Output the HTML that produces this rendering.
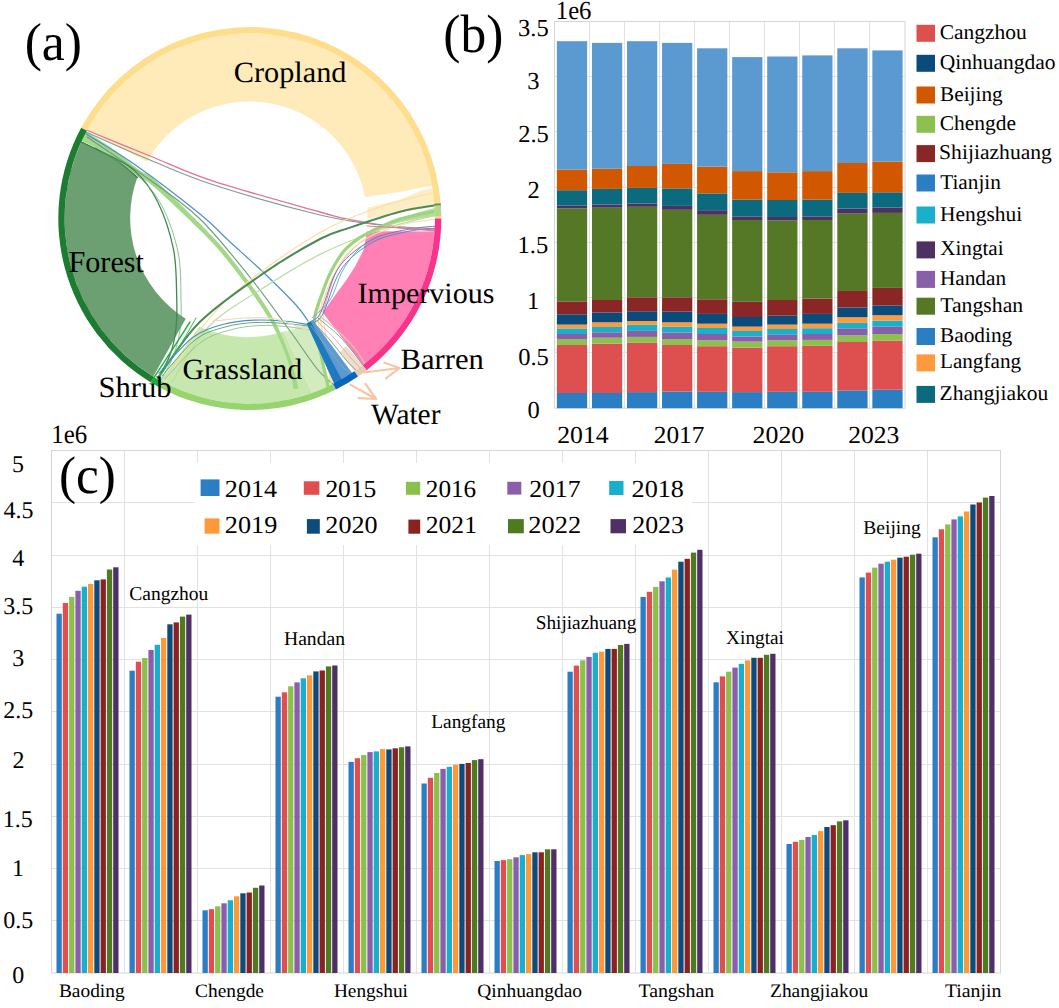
<!DOCTYPE html>
<html><head><meta charset="utf-8"><style>
html,body{margin:0;padding:0;background:#fff;}
body{width:1059px;height:1008px;overflow:hidden;font-family:"Liberation Serif",serif;}
svg text{font-family:"Liberation Serif",serif;fill:#000;text-rendering:geometricPrecision;}
</style></head><body>
<svg width="1059" height="1008" viewBox="0 0 1059 1008" style="display:block">
<rect width="1059" height="1008" fill="#fff"/>
<g id="chord">
<path d="M86.74,130.70 A185.20,185.20 0 0 1 432.19,186.34 L423,187.1 L399.6,191.9 L364.9,196.9 A117.50,117.50 0 0 0 147.03,161.53 Z" fill="#FEEBB9"/>
<path d="M367.4,207.8 L399.6,199.8 L423,190 L432.51,188.25 A185.20,185.20 0 0 1 434.63,206.87 L400,212.5 L367.4,219 Z" fill="#FEEDC2"/>
<path d="M81.41,141.40 L114.7,158.2 L137.5,176.9 A119.00,119.00 0 0 0 185.69,318.75 L153.31,376.58 A185.20,185.20 0 0 1 81.41,141.40 Z" fill="#6CA073"/>
<path d="M81.5,142.0 C87.0,144.8 105.4,153.1 114.7,159.0 C124.0,164.9 133.7,174.4 137.5,177.5" fill="none" stroke="#3F7F4A" stroke-width="1.4" opacity="1" stroke-linecap="round"/>
<path d="M160.58,380.79 L199.4,326.8 A118.00,118.00 0 0 0 283.71,331.52 L311.93,392.97 A185.20,185.20 0 0 1 160.58,380.79 Z" fill="#C6E7AE"/>
<path d="M311.93,392.97 L283.7,331.5 C298,329 306,324 312,320 C318,345 322,370 333.01,383.95 A185.20,185.20 0 0 1 311.93,392.97 Z" fill="#D2ECC0"/>
<path d="M434.55,231.42 A185.20,185.20 0 0 1 362.80,365.23 L322.7,312.6 Q336,294 346.7,279.5 Q357,265 363.6,249.5 L367.2,231.2 Z" fill="#FF80B4"/>
<path d="M323.0,312.0 C325.2,305.3 331.2,282.3 336.0,272.0 C340.8,261.7 346.8,255.7 352.0,250.0 C357.2,244.3 364.5,240.0 367.0,238.0" fill="none" stroke="#F45C9C" stroke-width="1.0" opacity="0.8" stroke-linecap="round"/>
<path d="M340,352 L346,346 L362.80,365.23 A185.20,185.20 0 0 1 354.43,371.31 Z" fill="#EADACB" opacity="0.9"/>
<path d="M318.5,300.0 C319.1,305.0 320.6,320.0 322.0,330.0 C323.4,340.0 325.1,350.3 327.0,360.0 C328.9,369.7 332.3,383.3 333.4,388.0" fill="none" stroke="#F6E3B0" stroke-width="2.0" opacity="0.9" stroke-linecap="round"/>
<path d="M321.0,300.0 C321.7,305.0 323.5,320.0 325.0,330.0 C326.5,340.0 328.2,350.3 330.0,360.0 C331.8,369.7 334.6,383.3 335.5,388.0" fill="none" stroke="#F3CFC0" stroke-width="1.0" opacity="0.9" stroke-linecap="round"/>
<path d="M83.9,130.0 C89.0,133.4 105.6,143.6 114.7,150.2 C123.8,156.8 131.7,164.5 138.5,169.6 C145.3,174.7 145.0,171.2 155.5,180.5 C166.0,189.8 188.9,212.4 201.5,225.3 C214.1,238.2 219.3,243.1 230.8,257.8 C242.3,272.5 260.6,296.9 270.5,313.5 C280.4,330.1 285.5,345.0 290.2,357.5 C294.9,370.0 297.1,383.3 298.5,388.5 L293.5,389.0 C292.4,384.1 291.6,371.4 287.2,359.3 C282.8,347.2 277.2,332.6 267.3,316.1 C257.4,299.7 239.1,275.2 227.6,260.6 C216.1,246.0 210.8,241.0 198.5,228.7 C186.2,216.3 163.5,195.2 153.5,186.5 C143.5,177.8 145.0,181.4 138.5,176.6 C132.0,171.8 124.2,163.6 114.7,157.6 C105.2,151.6 86.8,143.6 81.2,140.8 Z" fill="#A3D889"/>
<path d="M86.0,134.0 C94.0,139.0 115.0,150.7 134.0,164.0 C153.0,177.3 184.2,201.2 200.0,214.0 C215.8,226.8 218.3,231.2 229.0,241.0 C239.7,250.8 252.8,262.3 264.0,273.0 C275.2,283.7 288.7,297.0 296.0,305.0 C303.3,313.0 306.0,318.3 308.0,321.0" fill="none" stroke="#4C8FCC" stroke-width="1.2" opacity="1" stroke-linecap="round"/>
<path d="M87.0,137.0 C97.5,144.2 131.2,166.3 150.0,180.0 C168.8,193.7 183.2,202.7 200.0,219.0 C216.8,235.3 235.7,259.5 250.6,278.0 C265.5,296.5 278.1,314.7 289.3,330.0 C300.5,345.3 309.9,360.3 318.0,370.0 C326.1,379.7 334.7,385.0 338.0,388.0" fill="none" stroke="#6F9B7C" stroke-width="1.1" opacity="1" stroke-linecap="round"/>
<path d="M84.0,129.0 C95.0,133.5 128.3,147.3 150.0,156.0 C171.7,164.7 185.7,172.1 214.0,181.4 C242.3,190.7 297.3,205.6 320.0,212.0 C342.7,218.4 336.7,217.1 350.0,219.7 C363.3,222.3 385.5,225.7 400.0,227.6 C414.5,229.5 430.8,230.4 437.0,231.0" fill="none" stroke="#E5709F" stroke-width="1.3" opacity="1" stroke-linecap="round"/>
<path d="M86.0,132.0 C96.7,136.7 128.7,151.2 150.0,160.0 C171.3,168.8 185.7,175.8 214.0,185.0 C242.3,194.2 292.3,208.3 320.0,215.0 C347.7,221.7 360.5,222.7 380.0,225.0 C399.5,227.3 427.5,228.3 437.0,229.0" fill="none" stroke="#7EA088" stroke-width="1.1" opacity="1" stroke-linecap="round"/>
<path d="M165.0,382.0 C170.8,373.3 187.2,345.9 200.0,330.0 C212.8,314.1 222.0,302.6 242.0,286.4 C262.0,270.1 297.0,245.7 320.0,232.5 C343.0,219.3 361.3,213.6 380.0,207.0 C398.7,200.4 423.3,195.3 432.0,193.0" fill="none" stroke="#F8E0A0" stroke-width="1.2" opacity="1" stroke-linecap="round"/>
<path d="M158.0,378.0 C165.0,368.6 182.3,339.3 200.0,321.8 C217.7,304.3 244.0,286.7 264.0,272.9 C284.0,259.1 305.7,246.6 320.0,239.0 C334.3,231.4 336.7,232.2 350.0,227.6 C363.3,223.0 385.5,215.5 400.0,211.7 C414.5,207.9 430.8,206.1 437.0,205.0" fill="none" stroke="#4E8957" stroke-width="2.0" opacity="1" stroke-linecap="round"/>
<path d="M172.0,382.0 C178.1,372.8 193.7,342.2 208.4,326.9 C223.1,311.6 241.4,302.1 260.0,290.0 C278.6,277.9 300.0,264.4 320.0,254.4 C340.0,244.4 360.5,236.6 380.0,230.0 C399.5,223.4 427.5,217.5 437.0,215.0" fill="none" stroke="#B8DDA2" stroke-width="1.2" opacity="1" stroke-linecap="round"/>
<path d="M95.0,148.0 C101.5,151.7 123.4,161.1 133.8,170.0 C144.2,178.9 151.0,188.5 157.6,201.7 C164.2,214.9 170.3,233.5 173.5,249.4 C176.7,265.3 176.3,283.8 176.7,297.0 C177.1,310.2 177.0,319.0 175.9,328.7 C174.8,338.4 173.0,346.8 170.0,355.0 C167.0,363.2 160.0,374.2 158.0,378.0" fill="none" stroke="#3E8A4E" stroke-width="1.3" opacity="1" stroke-linecap="round"/>
<path d="M100.0,150.0 C106.2,154.2 126.7,165.7 137.0,175.0 C147.3,184.3 155.2,193.2 162.0,206.0 C168.8,218.8 174.8,236.7 178.0,252.0 C181.2,267.3 180.7,285.0 181.0,298.0 C181.3,311.0 181.3,320.2 180.0,330.0 C178.7,339.8 176.2,348.7 173.0,357.0 C169.8,365.3 163.0,376.2 161.0,380.0" fill="none" stroke="#5FA86A" stroke-width="0.9" opacity="0.8" stroke-linecap="round"/>
<path d="M153.0,379.0 C156.2,374.2 165.8,359.5 172.0,350.0 C178.2,340.5 187.0,326.7 190.0,322.0" fill="none" stroke="#22B043" stroke-width="1.4" opacity="1" stroke-linecap="round"/>
<path d="M156.0,381.0 C159.3,376.2 169.3,362.5 176.0,352.0 C182.7,341.5 192.7,323.7 196.0,318.0" fill="none" stroke="#2BB84A" stroke-width="1.0" opacity="1" stroke-linecap="round"/>
<path d="M159.0,373.0 C164.6,367.1 181.6,345.9 192.3,337.8 C203.1,329.7 213.1,327.2 223.5,324.3 C233.9,321.4 244.2,320.6 254.6,320.1 C265.0,319.6 277.1,320.5 285.8,321.2 C294.5,321.9 303.1,323.8 306.6,324.3" fill="none" stroke="#4C8FCC" stroke-width="1.1" opacity="1" stroke-linecap="round"/>
<path d="M162.0,376.0 C167.5,370.0 184.5,348.2 195.0,340.0 C205.5,331.8 215.0,329.9 225.0,327.0 C235.0,324.1 245.0,323.1 255.0,322.5 C265.0,321.9 276.2,322.9 285.0,323.5 C293.8,324.1 304.2,325.6 308.0,326.0" fill="none" stroke="#5DAE68" stroke-width="1.0" opacity="1" stroke-linecap="round"/>
<path d="M165.0,379.0 C170.8,373.0 189.2,351.2 200.0,343.0 C210.8,334.8 220.0,332.9 230.0,330.0 C240.0,327.1 250.0,326.0 260.0,325.5 C270.0,325.0 281.8,326.2 290.0,327.0 C298.2,327.8 305.8,329.5 309.0,330.0" fill="none" stroke="#8FBF96" stroke-width="0.9" opacity="1" stroke-linecap="round"/>
<path d="M213.0,321.2 C218.3,320.7 234.6,318.4 245.0,318.0 C255.4,317.6 264.4,316.8 275.4,319.0 C286.3,321.2 304.8,329.4 310.7,331.5" fill="none" stroke="#EBDDB8" stroke-width="1.2" opacity="1" stroke-linecap="round"/>
<path d="M372,229 C390,222 410,214 437,207.5 L437,216 C415,218.5 395,223 378,229.5 Z" fill="#B4DC9A"/>
<path d="M328.5,388.5 C327.1,382.1 322.3,361.4 320.0,350.0 C317.7,338.6 314.0,329.8 314.5,320.0 C315.0,310.2 320.1,299.5 322.9,291.4 C325.7,283.3 327.8,277.8 331.2,271.2 C334.6,264.6 338.9,257.3 343.1,252.1 C347.3,246.9 352.4,243.2 356.2,240.2 C360.0,237.2 362.5,236.1 365.7,234.3 C368.9,232.5 369.5,232.1 375.2,229.5 C380.9,226.9 389.7,222.1 400.0,219.0 C410.3,215.9 430.8,212.3 437.0,211.0" fill="none" stroke="#9CD47F" stroke-width="3.2" opacity="1" stroke-linecap="round"/>
<path d="M332.5,388.5 C331.1,382.1 326.3,361.2 324.0,350.0 C321.7,338.8 318.1,330.7 318.5,321.0 C318.9,311.3 323.8,300.0 326.5,292.0 C329.2,284.0 331.7,279.2 335.0,273.0 C338.3,266.8 342.5,259.9 346.5,255.0 C350.5,250.1 355.4,246.4 359.0,243.5 C362.6,240.6 364.5,239.4 368.0,237.5 C371.5,235.6 373.8,234.2 380.0,232.0 C386.2,229.8 395.5,226.2 405.0,224.0 C414.5,221.8 431.7,219.8 437.0,219.0" fill="none" stroke="#F6E0A8" stroke-width="1.2" opacity="1" stroke-linecap="round"/>
<path d="M312.0,321.0 C313.4,319.6 316.9,320.2 320.5,312.9 C324.1,305.6 329.4,285.9 333.6,277.0 C337.8,268.1 340.6,264.6 345.5,259.3 C350.4,254.0 357.6,248.9 363.3,245.0 C369.1,241.1 372.2,238.7 380.0,236.0 C387.8,233.3 400.5,230.7 410.0,229.0 C419.5,227.3 432.5,226.5 437.0,226.0" fill="none" stroke="#8D6BB5" stroke-width="1.0" opacity="1" stroke-linecap="round"/>
<path d="M313.0,323.0 C314.7,321.5 319.2,321.3 323.0,314.0 C326.8,306.7 331.8,287.8 336.0,279.0 C340.2,270.2 343.2,266.3 348.0,261.0 C352.8,255.7 359.3,250.8 365.0,247.0 C370.7,243.2 374.5,240.7 382.0,238.0 C389.5,235.3 400.8,232.7 410.0,231.0 C419.2,229.3 432.5,228.5 437.0,228.0" fill="none" stroke="#4A8FCF" stroke-width="1.0" opacity="1" stroke-linecap="round"/>
<path d="M312.0,318.0 C315.0,315.0 324.8,308.0 330.0,300.0 C335.2,292.0 338.0,278.7 343.0,270.0 C348.0,261.3 353.8,253.7 360.0,248.0 C366.2,242.3 376.7,238.0 380.0,236.0" fill="none" stroke="#4C9FCF" stroke-width="0.8" opacity="1" stroke-linecap="round"/>
<path d="M306.7,323.5 L312.6,320.1 L354.8,376.6 L335.4,385.9 Z" fill="#5B9AD3"/>
<path d="M306.7,323.5 L310.5,321.2 L343,382 L335.4,385.9 Z" fill="#1F79C0"/>
<path d="M313.0,322.0 C315.8,325.0 324.5,333.7 330.0,340.0 C335.5,346.3 341.0,354.3 346.0,360.0 C351.0,365.7 357.7,371.7 360.0,374.0" fill="none" stroke="#6E9B88" stroke-width="0.9" opacity="1" stroke-linecap="round"/>
<path d="M316.0,320.0 C319.0,323.0 328.3,331.8 334.0,338.0 C339.7,344.2 345.2,351.5 350.0,357.0 C354.8,362.5 360.8,368.7 363.0,371.0" fill="none" stroke="#E8A88E" stroke-width="0.9" opacity="1" stroke-linecap="round"/>
<path d="M318.0,318.0 C321.3,320.8 332.2,329.3 338.0,335.0 C343.8,340.7 348.5,346.5 353.0,352.0 C357.5,357.5 363.0,365.3 365.0,368.0" fill="none" stroke="#6FA0A8" stroke-width="0.9" opacity="1" stroke-linecap="round"/>
<path d="M320.0,316.0 C323.3,318.8 334.0,327.3 340.0,333.0 C346.0,338.7 351.7,344.5 356.0,350.0 C360.3,355.5 364.3,363.3 366.0,366.0" fill="none" stroke="#D9C7B0" stroke-width="1.2" opacity="1" stroke-linecap="round"/>
<path d="M311.0,326.0 C313.5,329.3 320.8,339.3 326.0,346.0 C331.2,352.7 337.0,360.8 342.0,366.0 C347.0,371.2 353.7,375.2 356.0,377.0" fill="none" stroke="#8FAF9A" stroke-width="0.8" opacity="1" stroke-linecap="round"/>
<path d="M367.0,226.0 C372.5,226.3 388.3,227.3 400.0,228.0 C411.7,228.7 430.8,229.7 437.0,230.0" fill="none" stroke="#E5709F" stroke-width="1.0" opacity="1" stroke-linecap="round"/>
<path d="M81.19,127.71 A191.50,191.50 0 0 1 441.30,218.50 L435.00,218.50 A185.20,185.20 0 0 0 86.74,130.70 Z" fill="#FEDE8C"/>
<path d="M441.30,218.50 A191.50,191.50 0 0 1 366.64,370.22 L362.80,365.23 A185.20,185.20 0 0 0 435.00,218.50 Z" fill="#F9328A"/>
<path d="M366.64,370.22 A191.50,191.50 0 0 1 357.99,376.51 L354.43,371.31 A185.20,185.20 0 0 0 362.80,365.23 Z" fill="#E6CCAE"/>
<path d="M357.99,376.51 A191.50,191.50 0 0 1 335.84,389.58 L333.01,383.95 A185.20,185.20 0 0 0 354.43,371.31 Z" fill="#0A63BD"/>
<path d="M335.84,389.58 A191.50,191.50 0 0 1 158.13,386.63 L161.15,381.10 A185.20,185.20 0 0 0 333.01,383.95 Z" fill="#96D46E"/>
<path d="M158.13,386.63 A191.50,191.50 0 0 1 150.60,382.30 L153.86,376.91 A185.20,185.20 0 0 0 161.15,381.10 Z" fill="#18AE3C"/>
<path d="M150.60,382.30 A191.50,191.50 0 0 1 81.19,127.71 L86.74,130.70 A185.20,185.20 0 0 0 153.86,376.91 Z" fill="#1D7C32"/>
<path d="M440.79,204.47 A191.50,191.50 0 0 1 441.29,216.49 L434.99,216.56 A185.20,185.20 0 0 0 434.50,204.94 Z" fill="#B5D88E"/>
<path d="M440.68,203.14 A191.50,191.50 0 0 1 440.83,205.14 L434.05,205.62 A184.70,184.70 0 0 0 433.91,203.69 Z" fill="#5E9460"/>
<path d="M364,372.5 L399.5,368 M384.4,362.7 L399.5,368 L386,378.3" fill="none" stroke="#FAC4A2" stroke-width="2.2" stroke-linecap="round" stroke-linejoin="round"/>
<path d="M350.4,384.6 L376.1,399 M365.5,383.8 L376.1,399 L358.7,398.2" fill="none" stroke="#FAC4A2" stroke-width="2.2" stroke-linecap="round" stroke-linejoin="round"/>
</g>
<g id="panelb">
<line x1="589.50" y1="21.5" x2="589.50" y2="408.2" stroke="#E2E2E2" stroke-width="1"/>
<line x1="624.50" y1="21.5" x2="624.50" y2="408.2" stroke="#E2E2E2" stroke-width="1"/>
<line x1="659.50" y1="21.5" x2="659.50" y2="408.2" stroke="#E2E2E2" stroke-width="1"/>
<line x1="694.50" y1="21.5" x2="694.50" y2="408.2" stroke="#E2E2E2" stroke-width="1"/>
<line x1="729.50" y1="21.5" x2="729.50" y2="408.2" stroke="#E2E2E2" stroke-width="1"/>
<line x1="764.50" y1="21.5" x2="764.50" y2="408.2" stroke="#E2E2E2" stroke-width="1"/>
<line x1="799.50" y1="21.5" x2="799.50" y2="408.2" stroke="#E2E2E2" stroke-width="1"/>
<line x1="834.50" y1="21.5" x2="834.50" y2="408.2" stroke="#E2E2E2" stroke-width="1"/>
<line x1="869.50" y1="21.5" x2="869.50" y2="408.2" stroke="#E2E2E2" stroke-width="1"/>
<line x1="554.5" y1="352.50" x2="905.0" y2="352.50" stroke="#E2E2E2" stroke-width="1"/>
<line x1="554.5" y1="297.50" x2="905.0" y2="297.50" stroke="#E2E2E2" stroke-width="1"/>
<line x1="554.5" y1="242.50" x2="905.0" y2="242.50" stroke="#E2E2E2" stroke-width="1"/>
<line x1="554.5" y1="187.50" x2="905.0" y2="187.50" stroke="#E2E2E2" stroke-width="1"/>
<line x1="554.5" y1="131.50" x2="905.0" y2="131.50" stroke="#E2E2E2" stroke-width="1"/>
<line x1="554.5" y1="76.50" x2="905.0" y2="76.50" stroke="#E2E2E2" stroke-width="1"/>
<rect x="554.5" y="21.5" width="350.50" height="386.70" fill="none" stroke="#D6D6D6" stroke-width="1"/>
<rect x="556.90" y="393.00" width="30.25" height="15.20" fill="#2B7EC1"/>
<rect x="556.90" y="345.00" width="30.25" height="48.00" fill="#DE4F50"/>
<rect x="556.90" y="339.10" width="30.25" height="5.90" fill="#8CC04F"/>
<rect x="556.90" y="334.00" width="30.25" height="5.10" fill="#8A5FA9"/>
<rect x="556.90" y="328.40" width="30.25" height="5.60" fill="#1AAFCA"/>
<rect x="556.90" y="324.60" width="30.25" height="3.80" fill="#FE9A3E"/>
<rect x="556.90" y="314.30" width="30.25" height="10.30" fill="#0B4B7B"/>
<rect x="556.90" y="301.40" width="30.25" height="12.90" fill="#8B2626"/>
<rect x="556.90" y="208.40" width="30.25" height="93.00" fill="#557826"/>
<rect x="556.90" y="205.70" width="30.25" height="2.70" fill="#4D3163"/>
<rect x="556.90" y="190.20" width="30.25" height="15.50" fill="#0C6A7E"/>
<rect x="556.90" y="169.60" width="30.25" height="20.60" fill="#D15800"/>
<rect x="556.90" y="41.20" width="30.25" height="128.40" fill="#5B9AD0"/>
<rect x="591.95" y="393.00" width="30.25" height="15.20" fill="#2B7EC1"/>
<rect x="591.95" y="343.70" width="30.25" height="49.30" fill="#DE4F50"/>
<rect x="591.95" y="337.70" width="30.25" height="6.00" fill="#8CC04F"/>
<rect x="591.95" y="332.30" width="30.25" height="5.40" fill="#8A5FA9"/>
<rect x="591.95" y="327.00" width="30.25" height="5.30" fill="#1AAFCA"/>
<rect x="591.95" y="322.30" width="30.25" height="4.70" fill="#FE9A3E"/>
<rect x="591.95" y="312.50" width="30.25" height="9.80" fill="#0B4B7B"/>
<rect x="591.95" y="300.00" width="30.25" height="12.50" fill="#8B2626"/>
<rect x="591.95" y="207.70" width="30.25" height="92.30" fill="#557826"/>
<rect x="591.95" y="204.50" width="30.25" height="3.20" fill="#4D3163"/>
<rect x="591.95" y="188.90" width="30.25" height="15.60" fill="#0C6A7E"/>
<rect x="591.95" y="168.75" width="30.25" height="20.15" fill="#D15800"/>
<rect x="591.95" y="42.90" width="30.25" height="125.85" fill="#5B9AD0"/>
<rect x="627.00" y="392.10" width="30.25" height="16.10" fill="#2B7EC1"/>
<rect x="627.00" y="342.80" width="30.25" height="49.30" fill="#DE4F50"/>
<rect x="627.00" y="336.90" width="30.25" height="5.90" fill="#8CC04F"/>
<rect x="627.00" y="330.90" width="30.25" height="6.00" fill="#8A5FA9"/>
<rect x="627.00" y="324.80" width="30.25" height="6.10" fill="#1AAFCA"/>
<rect x="627.00" y="321.00" width="30.25" height="3.80" fill="#FE9A3E"/>
<rect x="627.00" y="311.25" width="30.25" height="9.75" fill="#0B4B7B"/>
<rect x="627.00" y="297.30" width="30.25" height="13.95" fill="#8B2626"/>
<rect x="627.00" y="206.80" width="30.25" height="90.50" fill="#557826"/>
<rect x="627.00" y="203.60" width="30.25" height="3.20" fill="#4D3163"/>
<rect x="627.00" y="187.90" width="30.25" height="15.70" fill="#0C6A7E"/>
<rect x="627.00" y="166.00" width="30.25" height="21.90" fill="#D15800"/>
<rect x="627.00" y="41.20" width="30.25" height="124.80" fill="#5B9AD0"/>
<rect x="662.05" y="391.50" width="30.25" height="16.70" fill="#2B7EC1"/>
<rect x="662.05" y="345.00" width="30.25" height="46.50" fill="#DE4F50"/>
<rect x="662.05" y="339.10" width="30.25" height="5.90" fill="#8CC04F"/>
<rect x="662.05" y="332.60" width="30.25" height="6.50" fill="#8A5FA9"/>
<rect x="662.05" y="326.80" width="30.25" height="5.80" fill="#1AAFCA"/>
<rect x="662.05" y="322.30" width="30.25" height="4.50" fill="#FE9A3E"/>
<rect x="662.05" y="311.60" width="30.25" height="10.70" fill="#0B4B7B"/>
<rect x="662.05" y="297.30" width="30.25" height="14.30" fill="#8B2626"/>
<rect x="662.05" y="209.80" width="30.25" height="87.50" fill="#557826"/>
<rect x="662.05" y="205.90" width="30.25" height="3.90" fill="#4D3163"/>
<rect x="662.05" y="188.40" width="30.25" height="17.50" fill="#0C6A7E"/>
<rect x="662.05" y="163.90" width="30.25" height="24.50" fill="#D15800"/>
<rect x="662.05" y="42.90" width="30.25" height="121.00" fill="#5B9AD0"/>
<rect x="697.10" y="391.80" width="30.25" height="16.40" fill="#2B7EC1"/>
<rect x="697.10" y="346.20" width="30.25" height="45.60" fill="#DE4F50"/>
<rect x="697.10" y="340.30" width="30.25" height="5.90" fill="#8CC04F"/>
<rect x="697.10" y="334.00" width="30.25" height="6.30" fill="#8A5FA9"/>
<rect x="697.10" y="328.00" width="30.25" height="6.00" fill="#1AAFCA"/>
<rect x="697.10" y="323.70" width="30.25" height="4.30" fill="#FE9A3E"/>
<rect x="697.10" y="313.90" width="30.25" height="9.80" fill="#0B4B7B"/>
<rect x="697.10" y="299.30" width="30.25" height="14.60" fill="#8B2626"/>
<rect x="697.10" y="214.80" width="30.25" height="84.50" fill="#557826"/>
<rect x="697.10" y="210.20" width="30.25" height="4.60" fill="#4D3163"/>
<rect x="697.10" y="193.40" width="30.25" height="16.80" fill="#0C6A7E"/>
<rect x="697.10" y="166.60" width="30.25" height="26.80" fill="#D15800"/>
<rect x="697.10" y="48.30" width="30.25" height="118.30" fill="#5B9AD0"/>
<rect x="732.15" y="392.10" width="30.25" height="16.10" fill="#2B7EC1"/>
<rect x="732.15" y="347.60" width="30.25" height="44.50" fill="#DE4F50"/>
<rect x="732.15" y="341.60" width="30.25" height="6.00" fill="#8CC04F"/>
<rect x="732.15" y="336.50" width="30.25" height="5.10" fill="#8A5FA9"/>
<rect x="732.15" y="331.00" width="30.25" height="5.50" fill="#1AAFCA"/>
<rect x="732.15" y="326.60" width="30.25" height="4.40" fill="#FE9A3E"/>
<rect x="732.15" y="317.00" width="30.25" height="9.60" fill="#0B4B7B"/>
<rect x="732.15" y="301.80" width="30.25" height="15.20" fill="#8B2626"/>
<rect x="732.15" y="220.00" width="30.25" height="81.80" fill="#557826"/>
<rect x="732.15" y="216.40" width="30.25" height="3.60" fill="#4D3163"/>
<rect x="732.15" y="199.50" width="30.25" height="16.90" fill="#0C6A7E"/>
<rect x="732.15" y="171.10" width="30.25" height="28.40" fill="#D15800"/>
<rect x="732.15" y="57.10" width="30.25" height="114.00" fill="#5B9AD0"/>
<rect x="767.20" y="391.80" width="30.25" height="16.40" fill="#2B7EC1"/>
<rect x="767.20" y="346.20" width="30.25" height="45.60" fill="#DE4F50"/>
<rect x="767.20" y="340.30" width="30.25" height="5.90" fill="#8CC04F"/>
<rect x="767.20" y="334.80" width="30.25" height="5.50" fill="#8A5FA9"/>
<rect x="767.20" y="329.00" width="30.25" height="5.80" fill="#1AAFCA"/>
<rect x="767.20" y="324.60" width="30.25" height="4.40" fill="#FE9A3E"/>
<rect x="767.20" y="315.70" width="30.25" height="8.90" fill="#0B4B7B"/>
<rect x="767.20" y="300.00" width="30.25" height="15.70" fill="#8B2626"/>
<rect x="767.20" y="220.50" width="30.25" height="79.50" fill="#557826"/>
<rect x="767.20" y="217.00" width="30.25" height="3.50" fill="#4D3163"/>
<rect x="767.20" y="200.00" width="30.25" height="17.00" fill="#0C6A7E"/>
<rect x="767.20" y="172.30" width="30.25" height="27.70" fill="#D15800"/>
<rect x="767.20" y="56.50" width="30.25" height="115.80" fill="#5B9AD0"/>
<rect x="802.25" y="391.80" width="30.25" height="16.40" fill="#2B7EC1"/>
<rect x="802.25" y="345.90" width="30.25" height="45.90" fill="#DE4F50"/>
<rect x="802.25" y="339.90" width="30.25" height="6.00" fill="#8CC04F"/>
<rect x="802.25" y="334.00" width="30.25" height="5.90" fill="#8A5FA9"/>
<rect x="802.25" y="328.20" width="30.25" height="5.80" fill="#1AAFCA"/>
<rect x="802.25" y="323.70" width="30.25" height="4.50" fill="#FE9A3E"/>
<rect x="802.25" y="313.90" width="30.25" height="9.80" fill="#0B4B7B"/>
<rect x="802.25" y="298.60" width="30.25" height="15.30" fill="#8B2626"/>
<rect x="802.25" y="220.00" width="30.25" height="78.60" fill="#557826"/>
<rect x="802.25" y="216.40" width="30.25" height="3.60" fill="#4D3163"/>
<rect x="802.25" y="199.50" width="30.25" height="16.90" fill="#0C6A7E"/>
<rect x="802.25" y="171.10" width="30.25" height="28.40" fill="#D15800"/>
<rect x="802.25" y="55.40" width="30.25" height="115.70" fill="#5B9AD0"/>
<rect x="837.30" y="390.40" width="30.25" height="17.80" fill="#2B7EC1"/>
<rect x="837.30" y="342.00" width="30.25" height="48.40" fill="#DE4F50"/>
<rect x="837.30" y="335.40" width="30.25" height="6.60" fill="#8CC04F"/>
<rect x="837.30" y="328.30" width="30.25" height="7.10" fill="#8A5FA9"/>
<rect x="837.30" y="322.90" width="30.25" height="5.40" fill="#1AAFCA"/>
<rect x="837.30" y="317.20" width="30.25" height="5.70" fill="#FE9A3E"/>
<rect x="837.30" y="307.50" width="30.25" height="9.70" fill="#0B4B7B"/>
<rect x="837.30" y="291.00" width="30.25" height="16.50" fill="#8B2626"/>
<rect x="837.30" y="213.60" width="30.25" height="77.40" fill="#557826"/>
<rect x="837.30" y="208.60" width="30.25" height="5.00" fill="#4D3163"/>
<rect x="837.30" y="192.90" width="30.25" height="15.70" fill="#0C6A7E"/>
<rect x="837.30" y="163.00" width="30.25" height="29.90" fill="#D15800"/>
<rect x="837.30" y="48.30" width="30.25" height="114.70" fill="#5B9AD0"/>
<rect x="872.35" y="389.70" width="30.25" height="18.50" fill="#2B7EC1"/>
<rect x="872.35" y="340.80" width="30.25" height="48.90" fill="#DE4F50"/>
<rect x="872.35" y="334.00" width="30.25" height="6.80" fill="#8CC04F"/>
<rect x="872.35" y="326.70" width="30.25" height="7.30" fill="#8A5FA9"/>
<rect x="872.35" y="320.60" width="30.25" height="6.10" fill="#1AAFCA"/>
<rect x="872.35" y="315.25" width="30.25" height="5.35" fill="#FE9A3E"/>
<rect x="872.35" y="305.40" width="30.25" height="9.85" fill="#0B4B7B"/>
<rect x="872.35" y="287.90" width="30.25" height="17.50" fill="#8B2626"/>
<rect x="872.35" y="212.90" width="30.25" height="75.00" fill="#557826"/>
<rect x="872.35" y="207.50" width="30.25" height="5.40" fill="#4D3163"/>
<rect x="872.35" y="192.30" width="30.25" height="15.20" fill="#0C6A7E"/>
<rect x="872.35" y="161.60" width="30.25" height="30.70" fill="#D15800"/>
<rect x="872.35" y="50.40" width="30.25" height="111.20" fill="#5B9AD0"/>
</g>
<rect x="916.5" y="24.8" width="18.5" height="17" fill="#DE4F50"/>
<rect x="916.5" y="54.8" width="18.5" height="17" fill="#0B4B7B"/>
<rect x="916.5" y="86.5" width="18.5" height="17" fill="#D15800"/>
<rect x="916.5" y="115.8" width="18.5" height="17" fill="#8CC04F"/>
<rect x="916.5" y="145.1" width="18.5" height="17" fill="#8B2626"/>
<rect x="916.5" y="174.5" width="18.5" height="17" fill="#2A7FC4"/>
<rect x="916.5" y="206.5" width="18.5" height="17" fill="#1AAFCA"/>
<rect x="916.5" y="241.4" width="18.5" height="17" fill="#4D3163"/>
<rect x="916.5" y="270.9" width="18.5" height="17" fill="#8A5FA9"/>
<rect x="916.5" y="297.7" width="18.5" height="17" fill="#557826"/>
<rect x="916.5" y="328.0" width="18.5" height="17" fill="#2B7EC1"/>
<rect x="916.5" y="354.4" width="18.5" height="17" fill="#FE9A3E"/>
<rect x="916.5" y="385.9" width="18.5" height="17" fill="#0C6A7E"/>
<g id="panelc">
<line x1="124.50" y1="450.5" x2="124.50" y2="973.0" stroke="#E2E2E2" stroke-width="1"/>
<line x1="197.50" y1="450.5" x2="197.50" y2="973.0" stroke="#E2E2E2" stroke-width="1"/>
<line x1="270.50" y1="450.5" x2="270.50" y2="973.0" stroke="#E2E2E2" stroke-width="1"/>
<line x1="343.50" y1="450.5" x2="343.50" y2="973.0" stroke="#E2E2E2" stroke-width="1"/>
<line x1="416.50" y1="450.5" x2="416.50" y2="973.0" stroke="#E2E2E2" stroke-width="1"/>
<line x1="489.50" y1="450.5" x2="489.50" y2="973.0" stroke="#E2E2E2" stroke-width="1"/>
<line x1="562.50" y1="450.5" x2="562.50" y2="973.0" stroke="#E2E2E2" stroke-width="1"/>
<line x1="635.50" y1="450.5" x2="635.50" y2="973.0" stroke="#E2E2E2" stroke-width="1"/>
<line x1="708.50" y1="450.5" x2="708.50" y2="973.0" stroke="#E2E2E2" stroke-width="1"/>
<line x1="781.50" y1="450.5" x2="781.50" y2="973.0" stroke="#E2E2E2" stroke-width="1"/>
<line x1="854.50" y1="450.5" x2="854.50" y2="973.0" stroke="#E2E2E2" stroke-width="1"/>
<line x1="927.50" y1="450.5" x2="927.50" y2="973.0" stroke="#E2E2E2" stroke-width="1"/>
<line x1="51.5" y1="920.50" x2="1000.5" y2="920.50" stroke="#E2E2E2" stroke-width="1"/>
<line x1="51.5" y1="868.50" x2="1000.5" y2="868.50" stroke="#E2E2E2" stroke-width="1"/>
<line x1="51.5" y1="816.50" x2="1000.5" y2="816.50" stroke="#E2E2E2" stroke-width="1"/>
<line x1="51.5" y1="764.50" x2="1000.5" y2="764.50" stroke="#E2E2E2" stroke-width="1"/>
<line x1="51.5" y1="711.50" x2="1000.5" y2="711.50" stroke="#E2E2E2" stroke-width="1"/>
<line x1="51.5" y1="659.50" x2="1000.5" y2="659.50" stroke="#E2E2E2" stroke-width="1"/>
<line x1="51.5" y1="607.50" x2="1000.5" y2="607.50" stroke="#E2E2E2" stroke-width="1"/>
<line x1="51.5" y1="555.50" x2="1000.5" y2="555.50" stroke="#E2E2E2" stroke-width="1"/>
<line x1="51.5" y1="502.50" x2="1000.5" y2="502.50" stroke="#E2E2E2" stroke-width="1"/>
<rect x="51.5" y="450.5" width="949.00" height="522.50" fill="none" stroke="#D6D6D6" stroke-width="1"/>
<rect x="195" y="463" width="497" height="82" fill="#fff"/>
<rect x="56.50" y="613.70" width="5.3" height="359.30" fill="#2B7EC4"/>
<rect x="62.80" y="603.00" width="5.3" height="370.00" fill="#E04E4F"/>
<rect x="69.10" y="596.90" width="5.3" height="376.10" fill="#8CC04C"/>
<rect x="75.40" y="590.80" width="5.3" height="382.20" fill="#8A5EAA"/>
<rect x="81.70" y="586.70" width="5.3" height="386.30" fill="#17AFCB"/>
<rect x="88.00" y="584.00" width="5.3" height="389.00" fill="#FE993A"/>
<rect x="94.30" y="580.30" width="5.3" height="392.70" fill="#0C4B7C"/>
<rect x="100.60" y="579.40" width="5.3" height="393.60" fill="#8A2222"/>
<rect x="106.90" y="569.50" width="5.3" height="403.50" fill="#4F7A20"/>
<rect x="113.20" y="567.30" width="5.3" height="405.70" fill="#4E2F66"/>
<rect x="129.50" y="670.70" width="5.3" height="302.30" fill="#2B7EC4"/>
<rect x="135.80" y="661.70" width="5.3" height="311.30" fill="#E04E4F"/>
<rect x="142.10" y="658.00" width="5.3" height="315.00" fill="#8CC04C"/>
<rect x="148.40" y="650.00" width="5.3" height="323.00" fill="#8A5EAA"/>
<rect x="154.70" y="644.80" width="5.3" height="328.20" fill="#17AFCB"/>
<rect x="161.00" y="638.00" width="5.3" height="335.00" fill="#FE993A"/>
<rect x="167.30" y="624.30" width="5.3" height="348.70" fill="#0C4B7C"/>
<rect x="173.60" y="622.40" width="5.3" height="350.60" fill="#8A2222"/>
<rect x="179.90" y="616.60" width="5.3" height="356.40" fill="#4F7A20"/>
<rect x="186.20" y="614.60" width="5.3" height="358.40" fill="#4E2F66"/>
<rect x="202.50" y="910.30" width="5.3" height="62.70" fill="#2B7EC4"/>
<rect x="208.80" y="909.20" width="5.3" height="63.80" fill="#E04E4F"/>
<rect x="215.10" y="906.30" width="5.3" height="66.70" fill="#8CC04C"/>
<rect x="221.40" y="903.30" width="5.3" height="69.70" fill="#8A5EAA"/>
<rect x="227.70" y="900.30" width="5.3" height="72.70" fill="#17AFCB"/>
<rect x="234.00" y="896.30" width="5.3" height="76.70" fill="#FE993A"/>
<rect x="240.30" y="893.30" width="5.3" height="79.70" fill="#0C4B7C"/>
<rect x="246.60" y="892.50" width="5.3" height="80.50" fill="#8A2222"/>
<rect x="252.90" y="887.80" width="5.3" height="85.20" fill="#4F7A20"/>
<rect x="259.20" y="885.50" width="5.3" height="87.50" fill="#4E2F66"/>
<rect x="275.50" y="696.70" width="5.3" height="276.30" fill="#2B7EC4"/>
<rect x="281.80" y="692.30" width="5.3" height="280.70" fill="#E04E4F"/>
<rect x="288.10" y="686.30" width="5.3" height="286.70" fill="#8CC04C"/>
<rect x="294.40" y="682.40" width="5.3" height="290.60" fill="#8A5EAA"/>
<rect x="300.70" y="678.30" width="5.3" height="294.70" fill="#17AFCB"/>
<rect x="307.00" y="675.30" width="5.3" height="297.70" fill="#FE993A"/>
<rect x="313.30" y="671.40" width="5.3" height="301.60" fill="#0C4B7C"/>
<rect x="319.60" y="670.50" width="5.3" height="302.50" fill="#8A2222"/>
<rect x="325.90" y="666.40" width="5.3" height="306.60" fill="#4F7A20"/>
<rect x="332.20" y="665.50" width="5.3" height="307.50" fill="#4E2F66"/>
<rect x="348.50" y="761.90" width="5.3" height="211.10" fill="#2B7EC4"/>
<rect x="354.80" y="758.20" width="5.3" height="214.80" fill="#E04E4F"/>
<rect x="361.10" y="755.10" width="5.3" height="217.90" fill="#8CC04C"/>
<rect x="367.40" y="752.10" width="5.3" height="220.90" fill="#8A5EAA"/>
<rect x="373.70" y="751.40" width="5.3" height="221.60" fill="#17AFCB"/>
<rect x="380.00" y="749.10" width="5.3" height="223.90" fill="#FE993A"/>
<rect x="386.30" y="749.40" width="5.3" height="223.60" fill="#0C4B7C"/>
<rect x="392.60" y="748.30" width="5.3" height="224.70" fill="#8A2222"/>
<rect x="398.90" y="747.30" width="5.3" height="225.70" fill="#4F7A20"/>
<rect x="405.20" y="746.40" width="5.3" height="226.60" fill="#4E2F66"/>
<rect x="421.50" y="783.50" width="5.3" height="189.50" fill="#2B7EC4"/>
<rect x="427.80" y="777.80" width="5.3" height="195.20" fill="#E04E4F"/>
<rect x="434.10" y="773.00" width="5.3" height="200.00" fill="#8CC04C"/>
<rect x="440.40" y="768.90" width="5.3" height="204.10" fill="#8A5EAA"/>
<rect x="446.70" y="766.80" width="5.3" height="206.20" fill="#17AFCB"/>
<rect x="453.00" y="764.70" width="5.3" height="208.30" fill="#FE993A"/>
<rect x="459.30" y="763.90" width="5.3" height="209.10" fill="#0C4B7C"/>
<rect x="465.60" y="763.00" width="5.3" height="210.00" fill="#8A2222"/>
<rect x="471.90" y="760.10" width="5.3" height="212.90" fill="#4F7A20"/>
<rect x="478.20" y="759.20" width="5.3" height="213.80" fill="#4E2F66"/>
<rect x="494.50" y="861.00" width="5.3" height="112.00" fill="#2B7EC4"/>
<rect x="500.80" y="860.10" width="5.3" height="112.90" fill="#E04E4F"/>
<rect x="507.10" y="859.20" width="5.3" height="113.80" fill="#8CC04C"/>
<rect x="513.40" y="857.30" width="5.3" height="115.70" fill="#8A5EAA"/>
<rect x="519.70" y="855.10" width="5.3" height="117.90" fill="#17AFCB"/>
<rect x="526.00" y="854.10" width="5.3" height="118.90" fill="#FE993A"/>
<rect x="532.30" y="852.30" width="5.3" height="120.70" fill="#0C4B7C"/>
<rect x="538.60" y="852.30" width="5.3" height="120.70" fill="#8A2222"/>
<rect x="544.90" y="849.30" width="5.3" height="123.70" fill="#4F7A20"/>
<rect x="551.20" y="849.30" width="5.3" height="123.70" fill="#4E2F66"/>
<rect x="567.50" y="671.70" width="5.3" height="301.30" fill="#2B7EC4"/>
<rect x="573.80" y="665.60" width="5.3" height="307.40" fill="#E04E4F"/>
<rect x="580.10" y="660.30" width="5.3" height="312.70" fill="#8CC04C"/>
<rect x="586.40" y="656.90" width="5.3" height="316.10" fill="#8A5EAA"/>
<rect x="592.70" y="652.80" width="5.3" height="320.20" fill="#17AFCB"/>
<rect x="599.00" y="651.70" width="5.3" height="321.30" fill="#FE993A"/>
<rect x="605.30" y="648.90" width="5.3" height="324.10" fill="#0C4B7C"/>
<rect x="611.60" y="648.90" width="5.3" height="324.10" fill="#8A2222"/>
<rect x="617.90" y="645.00" width="5.3" height="328.00" fill="#4F7A20"/>
<rect x="624.20" y="643.90" width="5.3" height="329.10" fill="#4E2F66"/>
<rect x="640.50" y="596.90" width="5.3" height="376.10" fill="#2B7EC4"/>
<rect x="646.80" y="591.80" width="5.3" height="381.20" fill="#E04E4F"/>
<rect x="653.10" y="586.90" width="5.3" height="386.10" fill="#8CC04C"/>
<rect x="659.40" y="581.30" width="5.3" height="391.70" fill="#8A5EAA"/>
<rect x="665.70" y="577.50" width="5.3" height="395.50" fill="#17AFCB"/>
<rect x="672.00" y="569.60" width="5.3" height="403.40" fill="#FE993A"/>
<rect x="678.30" y="561.70" width="5.3" height="411.30" fill="#0C4B7C"/>
<rect x="684.60" y="558.80" width="5.3" height="414.20" fill="#8A2222"/>
<rect x="690.90" y="552.60" width="5.3" height="420.40" fill="#4F7A20"/>
<rect x="697.20" y="549.80" width="5.3" height="423.20" fill="#4E2F66"/>
<rect x="713.50" y="682.30" width="5.3" height="290.70" fill="#2B7EC4"/>
<rect x="719.80" y="676.40" width="5.3" height="296.60" fill="#E04E4F"/>
<rect x="726.10" y="671.70" width="5.3" height="301.30" fill="#8CC04C"/>
<rect x="732.40" y="667.60" width="5.3" height="305.40" fill="#8A5EAA"/>
<rect x="738.70" y="663.80" width="5.3" height="309.20" fill="#17AFCB"/>
<rect x="745.00" y="660.40" width="5.3" height="312.60" fill="#FE993A"/>
<rect x="751.30" y="657.80" width="5.3" height="315.20" fill="#0C4B7C"/>
<rect x="757.60" y="657.80" width="5.3" height="315.20" fill="#8A2222"/>
<rect x="763.90" y="654.80" width="5.3" height="318.20" fill="#4F7A20"/>
<rect x="770.20" y="653.80" width="5.3" height="319.20" fill="#4E2F66"/>
<rect x="786.50" y="844.00" width="5.3" height="129.00" fill="#2B7EC4"/>
<rect x="792.80" y="841.80" width="5.3" height="131.20" fill="#E04E4F"/>
<rect x="799.10" y="839.90" width="5.3" height="133.10" fill="#8CC04C"/>
<rect x="805.40" y="837.00" width="5.3" height="136.00" fill="#8A5EAA"/>
<rect x="811.70" y="835.00" width="5.3" height="138.00" fill="#17AFCB"/>
<rect x="818.00" y="831.10" width="5.3" height="141.90" fill="#FE993A"/>
<rect x="824.30" y="827.00" width="5.3" height="146.00" fill="#0C4B7C"/>
<rect x="830.60" y="825.20" width="5.3" height="147.80" fill="#8A2222"/>
<rect x="836.90" y="821.40" width="5.3" height="151.60" fill="#4F7A20"/>
<rect x="843.20" y="820.30" width="5.3" height="152.70" fill="#4E2F66"/>
<rect x="859.50" y="577.40" width="5.3" height="395.60" fill="#2B7EC4"/>
<rect x="865.80" y="572.60" width="5.3" height="400.40" fill="#E04E4F"/>
<rect x="872.10" y="567.60" width="5.3" height="405.40" fill="#8CC04C"/>
<rect x="878.40" y="563.70" width="5.3" height="409.30" fill="#8A5EAA"/>
<rect x="884.70" y="561.70" width="5.3" height="411.30" fill="#17AFCB"/>
<rect x="891.00" y="559.70" width="5.3" height="413.30" fill="#FE993A"/>
<rect x="897.30" y="557.70" width="5.3" height="415.30" fill="#0C4B7C"/>
<rect x="903.60" y="556.70" width="5.3" height="416.30" fill="#8A2222"/>
<rect x="909.90" y="554.70" width="5.3" height="418.30" fill="#4F7A20"/>
<rect x="916.20" y="553.70" width="5.3" height="419.30" fill="#4E2F66"/>
<rect x="932.50" y="537.30" width="5.3" height="435.70" fill="#2B7EC4"/>
<rect x="938.80" y="529.30" width="5.3" height="443.70" fill="#E04E4F"/>
<rect x="945.10" y="524.40" width="5.3" height="448.60" fill="#8CC04C"/>
<rect x="951.40" y="519.40" width="5.3" height="453.60" fill="#8A5EAA"/>
<rect x="957.70" y="516.40" width="5.3" height="456.60" fill="#17AFCB"/>
<rect x="964.00" y="511.50" width="5.3" height="461.50" fill="#FE993A"/>
<rect x="970.30" y="504.50" width="5.3" height="468.50" fill="#0C4B7C"/>
<rect x="976.60" y="502.50" width="5.3" height="470.50" fill="#8A2222"/>
<rect x="982.90" y="497.60" width="5.3" height="475.40" fill="#4F7A20"/>
<rect x="989.20" y="496.00" width="5.3" height="477.00" fill="#4E2F66"/>
</g>
<rect x="200.6" y="479.4" width="18.9" height="16.6" fill="#2B7EC4"/>
<rect x="303.8" y="481.3" width="15.6" height="13.5" fill="#E04E4F"/>
<rect x="406" y="481.8" width="14.2" height="13.0" fill="#8CC04C"/>
<rect x="507.3" y="481.8" width="14.0" height="12.8" fill="#8A5EAA"/>
<rect x="609.2" y="481" width="14.3" height="14.0" fill="#17AFCB"/>
<rect x="204.6" y="518.4" width="14.9" height="15.3" fill="#FE993A"/>
<rect x="306.9" y="519.1" width="12.9" height="14.6" fill="#0C4B7C"/>
<rect x="408.4" y="519.6" width="11.8" height="14.1" fill="#8A2222"/>
<rect x="508" y="519.1" width="15.8" height="14.2" fill="#4F7A20"/>
<rect x="610.5" y="519.1" width="15.5" height="14.2" fill="#4E2F66"/>
<g id="texts">
<text transform="translate(555.77,18.70) scale(0.9514,1)" font-size="26">1e6</text>
<text x="518.07" y="35.89" font-size="24.5">3.5</text>
<text x="527.25" y="89.09" font-size="24.5">3</text>
<text x="518.19" y="142.09" font-size="24.5">2.5</text>
<text x="527.50" y="197.89" font-size="24.5">2</text>
<text x="517.58" y="253.39" font-size="24.5">1.5</text>
<text x="527.01" y="308.98" font-size="24.5">1</text>
<text x="518.19" y="365.19" font-size="24.5">0.5</text>
<text x="527.38" y="418.08" font-size="24.5">0</text>
<text transform="translate(557.17,443.30) scale(1.0508,1)" font-size="24.5">2014</text>
<text transform="translate(653.79,443.30) scale(1.0320,1)" font-size="24.5">2017</text>
<text transform="translate(752.57,443.30) scale(1.0544,1)" font-size="24.5">2020</text>
<text transform="translate(848.18,443.30) scale(1.0459,1)" font-size="24.5">2023</text>
<text transform="translate(939.74,38.80) scale(1.0226,1)" font-size="21">Cangzhou</text>
<text transform="translate(939.74,68.80) scale(1.0241,1)" font-size="21">Qinhuangdao</text>
<text transform="translate(939.96,100.50) scale(1.0148,1)" font-size="21">Beijing</text>
<text transform="translate(939.74,129.80) scale(1.0222,1)" font-size="21">Chengde</text>
<text transform="translate(939.09,159.10) scale(1.0285,1)" font-size="21">Shijiazhuang</text>
<text transform="translate(940.17,188.50) scale(1.0132,1)" font-size="21">Tianjin</text>
<text transform="translate(939.96,220.50) scale(1.0217,1)" font-size="21">Hengshui</text>
<text transform="translate(940.18,255.40) scale(1.0071,1)" font-size="21">Xingtai</text>
<text transform="translate(939.96,284.90) scale(1.0113,1)" font-size="21">Handan</text>
<text transform="translate(940.17,311.70) scale(1.0355,1)" font-size="21">Tangshan</text>
<text transform="translate(939.96,342.00) scale(1.0165,1)" font-size="21">Baoding</text>
<text transform="translate(939.97,368.40) scale(1.0078,1)" font-size="21">Langfang</text>
<text transform="translate(939.52,399.90) scale(1.0240,1)" font-size="21">Zhangjiakou</text>
<text transform="translate(51.36,443.00) scale(0.9391,1)" font-size="26.5">1e6</text>
<text transform="translate(58.95,492.57) scale(0.9672,1)" font-size="53">(c)</text>
<text x="12.06" y="472.42" font-size="24">5</text>
<text x="3.54" y="518.22" font-size="24">4.5</text>
<text x="12.18" y="566.02" font-size="24">4</text>
<text x="3.18" y="613.82" font-size="24">3.5</text>
<text x="12.18" y="666.32" font-size="24">3</text>
<text x="3.30" y="717.92" font-size="24">2.5</text>
<text x="12.42" y="767.92" font-size="24">2</text>
<text x="2.70" y="827.12" font-size="24">1.5</text>
<text x="11.94" y="876.42" font-size="24">1</text>
<text x="3.30" y="928.22" font-size="24">0.5</text>
<text x="12.30" y="982.92" font-size="24">0</text>
<text transform="translate(58.92,997.00) scale(1.0211,1)" font-size="19">Baoding</text>
<text transform="translate(195.02,997.00) scale(1.0209,1)" font-size="19">Chengde</text>
<text transform="translate(333.92,997.00) scale(1.0164,1)" font-size="19">Hengshui</text>
<text transform="translate(477.22,997.00) scale(1.0239,1)" font-size="19">Qinhuangdao</text>
<text transform="translate(638.40,997.00) scale(1.0443,1)" font-size="19">Tangshan</text>
<text transform="translate(770.03,997.00) scale(1.0210,1)" font-size="19">Zhangjiakou</text>
<text transform="translate(944.90,997.00) scale(1.0396,1)" font-size="19">Tianjin</text>
<text transform="translate(129.22,599.60) scale(1.0000,1)" font-size="19.5">Cangzhou</text>
<text transform="translate(284.01,645.20) scale(1.0056,1)" font-size="19.5">Handan</text>
<text transform="translate(431.22,728.30) scale(0.9931,1)" font-size="19.5">Langfang</text>
<text transform="translate(535.65,628.60) scale(0.9897,1)" font-size="19.5">Shijiazhuang</text>
<text transform="translate(726.11,644.40) scale(0.9893,1)" font-size="19.5">Xingtai</text>
<text transform="translate(863.31,534.30) scale(1.0009,1)" font-size="19.5">Beijing</text>
<text transform="translate(224.85,496.70) scale(1.0675,1)" font-size="24.5">2014</text>
<text transform="translate(325.38,496.70) scale(1.0395,1)" font-size="24.5">2015</text>
<text transform="translate(425.79,496.70) scale(1.0278,1)" font-size="24.5">2016</text>
<text transform="translate(529.17,496.70) scale(1.0490,1)" font-size="24.5">2017</text>
<text transform="translate(631.55,496.70) scale(1.0693,1)" font-size="24.5">2018</text>
<text transform="translate(224.85,532.80) scale(1.0693,1)" font-size="24.5">2019</text>
<text transform="translate(325.36,532.80) scale(1.0651,1)" font-size="24.5">2020</text>
<text transform="translate(425.78,532.80) scale(1.0440,1)" font-size="24.5">2021</text>
<text transform="translate(528.34,532.80) scale(1.0770,1)" font-size="24.5">2022</text>
<text transform="translate(632.27,532.80) scale(1.0544,1)" font-size="24.5">2023</text>
<text transform="translate(24.63,60.40) scale(0.9672,1)" font-size="53.5">(a)</text>
<text transform="translate(443.24,51.60) scale(0.9534,1)" font-size="54">(b)</text>
<text transform="translate(233.79,81.50) scale(1.0262,1)" font-size="29.5">Cropland</text>
<text transform="translate(68.50,271.60) scale(0.9889,1)" font-size="30.5">Forest</text>
<text transform="translate(357.50,302.50) scale(1.0192,1)" font-size="29.5">Impervious</text>
<text transform="translate(182.40,379.30) scale(1.0161,1)" font-size="29.5">Grassland</text>
<text transform="translate(98.46,396.70) scale(1.0363,1)" font-size="29.5">Shrub</text>
<text transform="translate(400.58,368.70) scale(1.0385,1)" font-size="29.5">Barren</text>
<text transform="translate(371.00,424.20) scale(0.9968,1)" font-size="29.5">Water</text>
</g>
</svg>
</body></html>
